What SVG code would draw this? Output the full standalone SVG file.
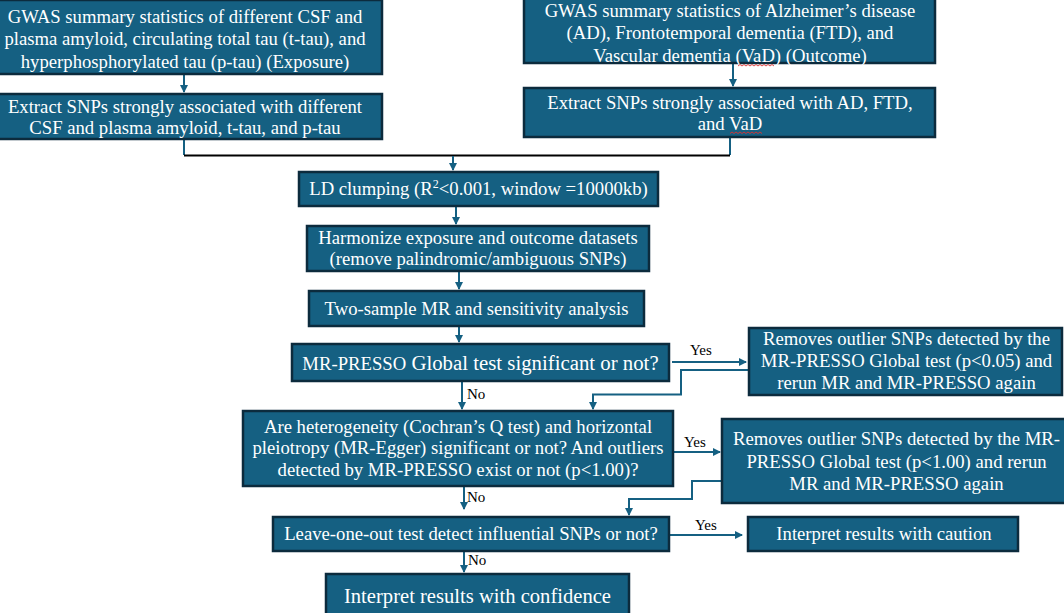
<svg xmlns="http://www.w3.org/2000/svg" width="1064" height="613" viewBox="0 0 1064 613">
<style>
.box{fill:#156082;stroke:#0c2b3d;stroke-width:2.5}
.t{font-family:"Liberation Serif","Times New Roman",serif;font-size:18.7px;fill:#ffffff;text-anchor:middle}
.big{font-size:20.6px}
.lbl{font-family:"Liberation Serif","Times New Roman",serif;font-size:15px;fill:#000000}
.c{fill:none;stroke:#156082;stroke-width:2}
.k{fill:none;stroke:#000000;stroke-width:2}
.sq{fill:none;stroke:#e03030;stroke-width:0.9}
</style>
<defs>
<marker id="ah" markerWidth="8" markerHeight="8" refX="7" refY="4" orient="auto" markerUnits="userSpaceOnUse">
<path d="M0,0 L8,4 L0,8 Z" fill="#156082"/>
</marker>
</defs>
<rect width="1064" height="613" fill="#ffffff"/>

<g id="connectors">
<line class="c" x1="184" y1="74" x2="184" y2="92" marker-end="url(#ah)"/>
<line class="c" x1="733" y1="64" x2="733" y2="86" marker-end="url(#ah)"/>
<polyline class="c" points="184,139 184,155"/>
<polyline class="c" points="730,137 730,155"/>
<polyline class="k" points="184,155.5 730,155.5"/>
<line class="c" x1="453" y1="156" x2="453" y2="170" marker-end="url(#ah)"/>
<line class="c" x1="456" y1="206" x2="456" y2="224" marker-end="url(#ah)"/>
<line class="c" x1="459" y1="271" x2="459" y2="289" marker-end="url(#ah)"/>
<line class="c" x1="459" y1="326" x2="459" y2="342" marker-end="url(#ah)"/>
<line class="c" x1="672" y1="362" x2="746" y2="362" marker-end="url(#ah)"/>
<polyline class="c" points="749,370 681,370 681,394.5 593,394.5 593,409" marker-end="url(#ah)"/>
<line class="c" x1="462" y1="381" x2="462" y2="409" marker-end="url(#ah)"/>
<line class="c" x1="673" y1="452" x2="720" y2="452" marker-end="url(#ah)"/>
<polyline class="c" points="722,481 692,481 692,499 629,499 629,515" marker-end="url(#ah)"/>
<line class="c" x1="464" y1="486" x2="464" y2="509" marker-end="url(#ah)"/>
<line class="c" x1="669" y1="535" x2="742" y2="535" marker-end="url(#ah)"/>
<line class="c" x1="464" y1="551" x2="464" y2="572" marker-end="url(#ah)"/>
<text class="lbl" x="690" y="355">Yes</text>
<text class="lbl" x="467" y="399">No</text>
<text class="lbl" x="684" y="447">Yes</text>
<text class="lbl" x="467" y="502">No</text>
<text class="lbl" x="695" y="530">Yes</text>
<text class="lbl" x="468" y="565">No</text>
</g>

<g id="exposure-gwas">
<rect class="box" x="-12" y="0" width="394" height="74"/>
<text class="t" x="185" y="22.5">GWAS summary statistics of different CSF and</text>
<text class="t" x="185" y="45">plasma amyloid, circulating total tau (t-tau), and</text>
<text class="t" x="185" y="67.5">hyperphosphorylated tau (p-tau) (Exposure)</text>
</g>

<g id="exposure-snps">
<rect class="box" x="-12" y="94" width="394" height="45"/>
<text class="t" x="185" y="112.5">Extract SNPs strongly associated with different</text>
<text class="t" x="185" y="134">CSF and plasma amyloid, t-tau, and p-tau</text>
</g>

<g id="outcome-gwas">
<rect class="box" x="524" y="-2" width="411" height="65"/>
<text class="t" x="730" y="16.5">GWAS summary statistics of Alzheimer’s disease</text>
<text class="t" x="730" y="39">(AD), Frontotemporal dementia (FTD), and</text>
<text class="t" x="730" y="61.5">Vascular dementia (VaD) (Outcome)</text>
<path class="sq" d="M738,66 l2,-1.5 l2,1.5 l2,-1.5 l2,1.5 l2,-1.5 l2,1.5 l2,-1.5 l2,1.5 l2,-1.5 l2,1.5 l2,-1.5 l2,1.5 l2,-1.5 l2,1.5 l2,-1.5 l2,1.5 l2,-1.5 l2,1.5"/>
</g>

<g id="outcome-snps">
<rect class="box" x="524" y="88" width="411" height="49"/>
<text class="t" x="730" y="108.5">Extract SNPs strongly associated with AD, FTD,</text>
<text class="t" x="730" y="130">and VaD</text>
<path class="sq" d="M730,133.5 l2,-1.5 l2,1.5 l2,-1.5 l2,1.5 l2,-1.5 l2,1.5 l2,-1.5 l2,1.5 l2,-1.5 l2,1.5 l2,-1.5 l2,1.5 l2,-1.5 l2,1.5 l2,-1.5 l2,1.5"/>
</g>

<g id="ld-clumping">
<rect class="box" x="299" y="172" width="359" height="34"/>
<text class="t" x="478.5" y="195">LD clumping (R<tspan font-size="12" dy="-7">2</tspan><tspan dy="7">&lt;0.001, window =10000kb)</tspan></text>
</g>

<g id="harmonize">
<rect class="box" x="307" y="226" width="342" height="45"/>
<text class="t" x="478" y="243.5">Harmonize exposure and outcome datasets</text>
<text class="t" x="478" y="265">(remove palindromic/ambiguous SNPs)</text>
</g>

<g id="two-sample-mr">
<rect class="box" x="309" y="291" width="335" height="35"/>
<text class="t" x="476.5" y="314.5">Two-sample MR and sensitivity analysis</text>
</g>

<g id="mr-presso-test">
<rect class="box" x="292" y="344" width="377" height="37"/>
<text class="t" x="480.5" y="369.5">MR-PRESSO<tspan font-size="20.8"> Global test significant or not?</tspan></text>
</g>

<g id="remove-outliers-1">
<rect class="box" x="749" y="328" width="313" height="67"/>
<text class="t" x="906.5" y="345">Removes outlier SNPs detected by the</text>
<text class="t" x="906.5" y="367">MR-PRESSO Global test (p&lt;0.05) and</text>
<text class="t" x="906.5" y="389">rerun MR and MR-PRESSO again</text>
</g>

<g id="heterogeneity">
<rect class="box" x="243" y="411" width="430" height="75"/>
<text class="t" x="458" y="432.5">Are heterogeneity (Cochran’s Q test) and horizontal</text>
<text class="t" x="458" y="454">pleiotropy (MR-Egger) significant or not? And outliers</text>
<text class="t" x="458" y="476">detected by MR-PRESSO exist or not (p&lt;1.00)?</text>
</g>

<g id="remove-outliers-2">
<rect class="box" x="722" y="419" width="350" height="84"/>
<text class="t" x="896.5" y="445">Removes outlier SNPs detected by the MR-</text>
<text class="t" x="896.5" y="467.5">PRESSO Global test (p&lt;1.00) and rerun</text>
<text class="t" x="896.5" y="490">MR and MR-PRESSO again</text>
</g>

<g id="leave-one-out">
<rect class="box" x="273" y="517" width="396" height="34"/>
<text class="t" x="471" y="540">Leave-one-out test detect influential SNPs or not?</text>
</g>

<g id="caution">
<rect class="box" x="748" y="517" width="270" height="34"/>
<text class="t" x="884" y="540">Interpret results with caution</text>
</g>

<g id="confidence">
<rect class="box" x="326" y="574" width="303" height="45"/>
<text class="t big" x="477.5" y="603">Interpret results with confidence</text>
</g>
</svg>
